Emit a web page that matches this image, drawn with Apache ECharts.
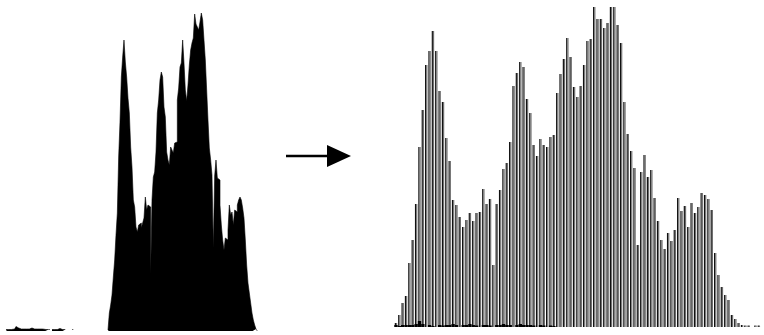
<!DOCTYPE html>
<html>
<head>
<meta charset="utf-8">
<script src="https://cdn.jsdelivr.net/npm/echarts@6/dist/echarts.min.js"></script>
<style>
  html, body { margin: 0; padding: 0; background: #fff; }
  #chart { width: 764px; height: 335px; }
</style>
</head>
<body>
<div id="chart"></div>
<script>
// left histogram (compressed), heights in px above baseline
const leftNoise = [1.5, 1.5, 1.5, 1.5, 1.5, 1.5, 2, 2.5, 4.5, 3, 2.5, 2, 2, 2, 1.5, 1.5, 2, 2, 2.5, 3,
  3, 2.5, 2, 2, 2, 2.5, 2, 2, 1.5, 1.5, 1.5, 1.5, 1.5, 1.5, null, 1.5, 1.5, 1.5, 1.5, 1.5,
  2, 2.5, 1.5, 1.5, 1.5, null, null, null, null, null, 1.5];
const leftGap = [null, null, null, null, null, null, null, null, null, null, null, null, null,
  null, null, null, null, null, null, null, null, null, null, null, null, null];
const leftMain = [1, 18, 26, 36, 54, 71, 96, 118, 174, 209, 254, 274, 291, 269, 254, 233, 218, 184,
  164, 131, 124, 104, 99, 106, 108, 103, 108, 113, 134, 121, 126, 124, 56, 131, 154, 159, 179,
  218, 231, 251, 259, 254, 224, 214, 179, 171, 166, 184, 181, 178, 188, 189, 231, 243, 264, 268,
  291, 268, 241, 230, 246, 266, 281, 288, 293, 317, 307, 304, 301, 309, 318, 311, 291, 271, 241,
  211, 183, 171, 156, 83, 155, 171, 153, 151, 126, 106, 91, 81, 93, 91, 101, 126, 116, 119, 106,
  121, 119, 126, 131, 134, 131, 123, 113, 91, 66, 48, 38, 28, 18, 11, 6, 2, 0];

// right histogram (stretched)
const rightBars = [4, 12, 24, 31, 64, 87, 123, 180, 217, 262, 276, 296, 276, 236, 225, 189, 166, 127,
  122, 110, 100, 107, 114, 106, 114,
  115, 138, 123, 128, 62, 123, 137, 158, 164, 185, 241, 254, 265, 260, 228, 214, 182, 171, 188,
  182, 180, 190, 192, 234, 253,
  268, 289, 270, 240, 230, 241, 262, 286, 288, 320, 308, 308, 299, 304, 320, 320, 302, 284, 225,
  193, 176, 159, 82, 155, 172,
  150, 157, 129, 106, 87, 78, 94, 86, 97, 129, 116, 121, 100, 124, 114, 120, 134, 132, 128, 117,
  74, 52, 40, 32, 27, 12, 8, 4, 2,
  1.5, 1.5, 0, 1.5, 1.5, 0];
const rightNoise = [2, 1, 2, 2, 2, 2, 3, 6, 3, 0, 2, 1, 0, 2, 1.5, 2, 2, 3, 2, 0, 2, 2, 3, 2, 1.5, 0,
  2, 2, 1.5, 0, 2, 2, 3, 2, 2, 0, 2, 3, 2, 2, 2, 1.5, 0, 2, 1.5, 0, 1.5, 1];

const leftValues = leftNoise.concat(leftGap, leftMain);
const leftCats = leftValues.map((_, i) => i);
const rightCats = rightBars.map((_, i) => i);

const chart = echarts.init(document.getElementById('chart'));

chart.setOption({
  animation: false,
  backgroundColor: '#fff',
  grid: [
    { left: 5.33, width: 253.33, top: 0, height: 331 },
    { left: 394.3, width: 369.6, top: 0, height: 327 }
  ],
  xAxis: [
    { type: 'category', gridIndex: 0, data: leftCats, show: false },
    { type: 'category', gridIndex: 1, data: rightCats, show: false },
    { type: 'category', gridIndex: 1, data: rightCats, show: false }
  ],
  yAxis: [
    { type: 'value', gridIndex: 0, min: 0, max: 331, show: false },
    { type: 'value', gridIndex: 1, min: 0, max: 327, show: false }
  ],
  series: [
    {
      type: 'line',
      xAxisIndex: 0,
      yAxisIndex: 0,
      data: leftValues,
      step: 'middle',
      showSymbol: false,
      lineStyle: { color: '#000', width: 0.6 },
      areaStyle: { color: '#000', opacity: 1 }
    },
    {
      type: 'bar',
      xAxisIndex: 1,
      yAxisIndex: 1,
      data: rightBars,
      barWidth: 1.2,
      barGap: '0%',
      itemStyle: { color: '#111' }
    },
    {
      type: 'bar',
      xAxisIndex: 1,
      yAxisIndex: 1,
      data: rightBars,
      barWidth: 1.2,
      itemStyle: { color: '#6f6f6f' }
    },
    {
      type: 'bar',
      xAxisIndex: 2,
      yAxisIndex: 1,
      data: rightNoise,
      barWidth: '100%',
      z: 3,
      itemStyle: { color: '#000' }
    }
  ],
  graphic: [
    {
      type: 'line',
      shape: { x1: 286, y1: 156, x2: 330, y2: 156 },
      style: { stroke: '#000', lineWidth: 2.5 }
    },
    {
      type: 'polygon',
      shape: { points: [[327, 145], [351, 156], [327, 167]] },
      style: { fill: '#000' }
    }
  ]
});
</script>
</body>
</html>
